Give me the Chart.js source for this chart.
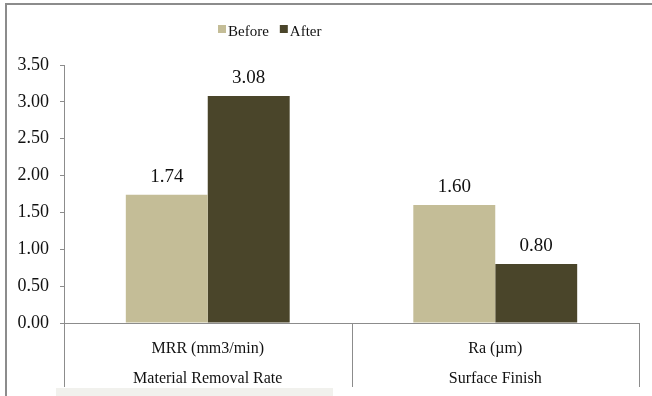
<!DOCTYPE html>
<html>
<head>
<meta charset="utf-8">
<script src="https://cdn.jsdelivr.net/npm/chart.js@4"></script>
<style>
  html, body { margin: 0; padding: 0; background: #fff; }
  canvas { display: block; }
</style>
</head>
<body>
<canvas id="c" width="652" height="396"></canvas>
<script>
// Process comparison: material removal rate and surface roughness
const categories = [
  ['MRR (mm3/min)', 'Material Removal Rate'],
  ['Ra (\u00b5m)', 'Surface Finish']
];
const seriesNames = ['Before', 'After'];
const beforeValues = [1.74, 1.60];
const afterValues = [3.08, 0.80];
const yTicks = [0, 0.5, 1, 1.5, 2, 2.5, 3, 3.5];

const COLORS = ['#C4BD97', '#4A452A'];
const SERIF = "'Liberation Serif', 'Times New Roman', serif";
const LINE = '#8c8c8c';

// Outer frame and faint strip beneath the chart
const framePlugin = {
  id: 'frame',
  beforeDraw(chart) {
    const ctx = chart.ctx;
    ctx.save();
    ctx.fillStyle = '#f1f1ed';
    ctx.fillRect(56, 388, 277, 8);
    ctx.strokeStyle = LINE;
    ctx.lineWidth = 2;
    ctx.beginPath();
    ctx.moveTo(6, 396);
    ctx.lineTo(6, 4);
    ctx.lineTo(652, 4);
    ctx.stroke();
    ctx.restore();
  }
};

// Vertical separators between the category groups below the axis
const dividerPlugin = {
  id: 'dividers',
  afterDraw(chart) {
    const x = chart.scales.x;
    const ctx = chart.ctx;
    const n = chart.data.labels.length;
    const xs = [x.left];
    for (let i = 0; i < n - 1; i++) {
      xs.push((x.getPixelForValue(i) + x.getPixelForValue(i + 1)) / 2);
    }
    xs.push(x.right);
    ctx.save();
    ctx.strokeStyle = LINE;
    ctx.lineWidth = 1;
    ctx.beginPath();
    xs.forEach(px => {
      const p = Math.round(px) + 0.5;
      ctx.moveTo(p, x.top);
      ctx.lineTo(p, x.top + 64);
    });
    ctx.stroke();
    ctx.restore();
  }
};

// Value labels above each bar
const valueLabelPlugin = {
  id: 'valueLabels',
  afterDatasetsDraw(chart) {
    const ctx = chart.ctx;
    ctx.save();
    ctx.font = '19px ' + SERIF;
    ctx.fillStyle = '#111';
    ctx.textAlign = 'center';
    ctx.textBaseline = 'alphabetic';
    chart.data.datasets.forEach((ds, di) => {
      const meta = chart.getDatasetMeta(di);
      meta.data.forEach((bar, i) => {
        ctx.fillText(ds.data[i].toFixed(2), bar.x, bar.y - 13);
      });
    });
    ctx.restore();
  }
};

// Legend row at the top
const legendPlugin = {
  id: 'topLegend',
  afterDraw(chart) {
    const ctx = chart.ctx;
    ctx.save();
    ctx.font = '15px ' + SERIF;
    ctx.textBaseline = 'alphabetic';
    ctx.textAlign = 'left';
    let x = 218;
    chart.data.datasets.forEach((ds, i) => {
      ctx.fillStyle = ds.backgroundColor;
      ctx.fillRect(x, 25, 8, 8);
      ctx.fillStyle = '#111';
      ctx.fillText(ds.label, x + 10, 36);
      x += 10 + ctx.measureText(ds.label).width + 11;
    });
    ctx.restore();
  }
};

new Chart(document.getElementById('c'), {
  type: 'bar',
  data: {
    labels: categories,
    datasets: [
      { label: seriesNames[0], data: beforeValues, backgroundColor: COLORS[0] },
      { label: seriesNames[1], data: afterValues, backgroundColor: COLORS[1] }
    ]
  },
  options: {
    responsive: false,
    animation: false,
    devicePixelRatio: 1,
    layout: { padding: { top: 65, right: 13, left: 0, bottom: 0 } },
    datasets: {
      bar: { categoryPercentage: 0.57, barPercentage: 1.0, borderWidth: 0 }
    },
    plugins: {
      legend: { display: false },
      tooltip: { enabled: false },
      title: { display: false }
    },
    scales: {
      x: {
        afterFit(s) { s.height = 73; },
        grid: { display: false },
        border: { display: true, color: LINE, width: 1 },
        ticks: {
          color: '#111',
          font: { family: SERIF, size: 16, lineHeight: '30px' },
          padding: 3,
          maxRotation: 0,
          autoSkip: false
        }
      },
      y: {
        min: 0,
        max: 3.5,
        afterFit(s) { s.width = 64; },
        afterBuildTicks(s) { s.ticks = yTicks.map(v => ({ value: v })); },
        grid: { drawOnChartArea: false, drawTicks: true, tickLength: 4, color: LINE },
        border: { display: true, color: LINE, width: 1 },
        ticks: {
          color: '#111',
          font: { family: SERIF, size: 18 },
          padding: 11,
          callback: v => Number(v).toFixed(2)
        }
      }
    }
  },
  plugins: [framePlugin, dividerPlugin, valueLabelPlugin, legendPlugin]
});
</script>
</body>
</html>
